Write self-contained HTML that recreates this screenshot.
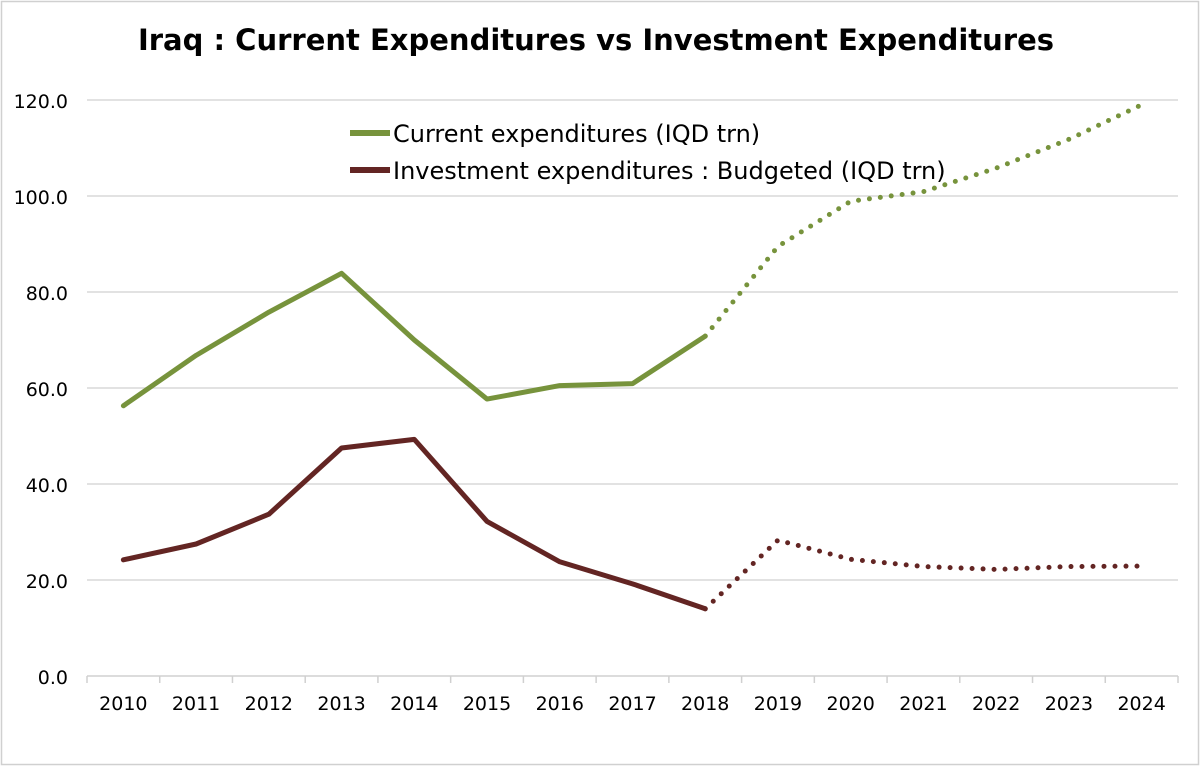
<!DOCTYPE html>
<html><head><meta charset="utf-8"><style>
body{margin:0;background:#fff;}
#wrap{position:relative;width:1200px;height:766px;overflow:hidden;}
svg text{font-family:"DejaVu Sans","Liberation Sans",sans-serif;}
</style></head><body>
<div id="wrap">
<svg id="chart" width="1200" height="766">
<rect x="1.5" y="1.5" width="1197" height="763" fill="#fff" stroke="#d0d0d0" stroke-width="1.5"/>
<text x="596" y="50" text-anchor="middle" font-size="29" font-weight="bold" fill="#000">Iraq : Current Expenditures vs Investment Expenditures</text>
<g id="grid"></g><g id="axes"></g><g id="series"></g>
<g>
<line x1="350" y1="133" x2="390" y2="133" stroke="#77933c" stroke-width="6"/>
<text x="393" y="142" font-size="24" fill="#000">Current expenditures (IQD trn)</text>
<line x1="350" y1="170" x2="390" y2="170" stroke="#632523" stroke-width="6"/>
<text x="393" y="179" font-size="24" fill="#000">Investment expenditures : Budgeted (IQD trn)</text>
</g>
</svg></div>
<script>
const years=["2010","2011","2012","2013","2014","2015","2016","2017","2018","2019","2020","2021","2022","2023","2024"];
const currentExp=[56.3,66.8,75.8,83.9,70.0,57.7,60.5,60.9,70.8,89.5,98.9,100.9,105.8,111.8,119.0];
const investExp=[24.2,27.5,33.7,47.5,49.3,32.2,23.8,19.2,14.0,28.3,24.3,22.8,22.2,22.8,22.9];
const yTicks=[0,20,40,60,80,100,120];
const yTickLabels=["0.0","20.0","40.0","60.0","80.0","100.0","120.0"];
const lastActual=8;
const NS="http://www.w3.org/2000/svg";
const X0=87,X1=1178,Y0=676,Y1=100;
const step=(X1-X0)/years.length;
const xs=i=>X0+step*(i+0.5);
const ys=v=>Y0-(v/120)*(Y0-Y1);
function mk(tag,attrs,parent){const e=document.createElementNS(NS,tag);for(const k in attrs)e.setAttribute(k,attrs[k]);document.getElementById(parent).appendChild(e);return e;}
yTicks.forEach((t,i)=>{
 if(t>0){const g=mk('line',{x1:X0,x2:X1,y1:ys(t),y2:ys(t),stroke:'#d9d9d9','stroke-width':1.5},'grid');
 
 }
 const l=mk('text',{x:68,y:ys(t)+8,'text-anchor':'end','font-size':19,fill:'#000'},'grid');
 l.textContent=yTickLabels[i];
 
 
});
const ax=mk('line',{x1:X0,x2:X1,y1:Y0,y2:Y0,stroke:'#d0d0d0','stroke-width':1.5},'axes');


for(let i=0;i<=years.length;i++){const t=mk('line',{x1:X0+step*i,x2:X0+step*i,y1:Y0,y2:Y0+7,stroke:'#d0d0d0','stroke-width':1.5},'axes');
 
 }
years.forEach((y,i)=>{const t=mk('text',{x:xs(i),y:710,'text-anchor':'middle','font-size':19,fill:'#000'},'axes');
 t.textContent=y;
 
 });
function pts(arr,a,b){let s=[];for(let i=a;i<=b;i++)s.push(xs(i)+','+ys(arr[i]));return s.join(' ');}
function draw(arr,color,name){
 const s=mk('polyline',{points:pts(arr,0,lastActual),fill:'none',stroke:color,'stroke-width':5,'stroke-linejoin':'round','stroke-linecap':'round'},'series');
 
 
 const d=mk('polyline',{points:pts(arr,lastActual,arr.length-1),fill:'none',stroke:color,'stroke-width':5,'stroke-dasharray':'0 11','stroke-linecap':'round','stroke-linejoin':'round'},'series');
 
 
}
draw(currentExp,'#77933c','current-expenditures');
draw(investExp,'#632523','investment-expenditures');
</script>
</body></html>
